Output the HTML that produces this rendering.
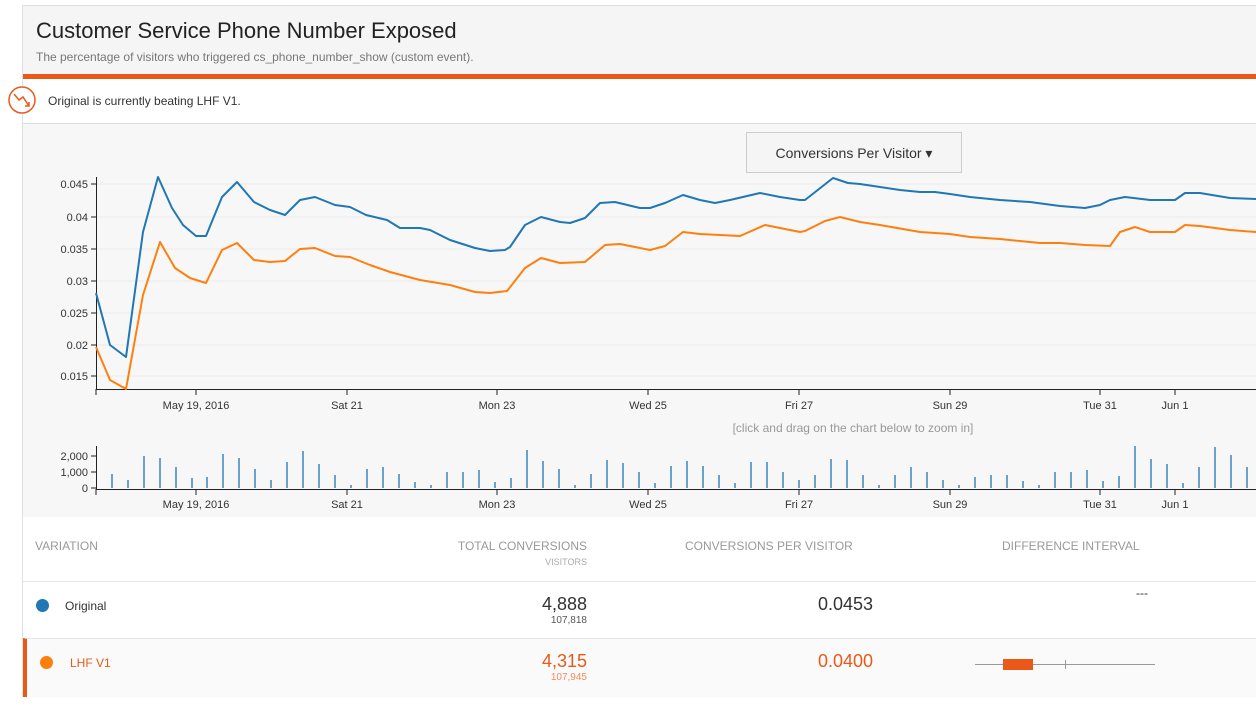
<!DOCTYPE html>
<html><head><meta charset="utf-8"><style>
*{margin:0;padding:0;box-sizing:border-box}
body{width:1256px;height:708px;background:#fff;font-family:"Liberation Sans",sans-serif;position:relative;overflow:hidden}
.card{position:absolute;left:22px;top:5px;width:1240px;height:692px;border:1px solid #e0e0e0;background:#fff}
.hdr{position:absolute;left:0;top:0;width:100%;height:68px;background:#f5f5f5}
.hdr h1{position:absolute;left:13px;top:12px;font-size:22px;font-weight:normal;color:#222}
.hdr p{position:absolute;left:13px;top:44px;font-size:12px;color:#777}
.bar{position:absolute;left:0;top:68px;width:100%;height:5px;background:#e8591a}
.alert{position:absolute;left:25px;top:88px;font-size:12px;color:#333}
.chart{position:absolute;left:0;top:117px;width:100%;height:394px;background:#f7f7f7;border-top:1px solid #ddd}
.btn{position:absolute;left:723px;top:8px;width:216px;height:41px;border:1px solid #ccc;background:#f5f5f5;font-size:14px;color:#333;text-align:center;line-height:40px}
.t{position:absolute;font-size:12px}
</style></head><body>
<div class="card">
<div class="hdr"><h1>Customer Service Phone Number Exposed</h1><p>The percentage of visitors who triggered cs_phone_number_show (custom event).</p></div>
<div class="bar"></div>
<div class="alert">Original is currently beating LHF V1.</div>
<div class="chart"><div class="btn">Conversions Per Visitor &#9662;</div></div>
<div class="t" style="left:12px;top:533px;color:#999;font-size:12px">VARIATION</div>
<div class="t" style="left:380px;top:533px;width:184px;text-align:right;color:#999">TOTAL CONVERSIONS</div>
<div class="t" style="left:380px;top:551px;width:184px;text-align:right;color:#aaa;font-size:9px">VISITORS</div>
<div class="t" style="left:662px;top:533px;color:#999">CONVERSIONS PER VISITOR</div>
<div class="t" style="left:979px;top:533px;color:#999">DIFFERENCE INTERVAL</div>
<div style="position:absolute;left:0;top:575px;width:100%;height:1px;background:#e5e5e5"></div>
<div style="position:absolute;left:13px;top:593px;width:13px;height:13px;border-radius:50%;background:#1f77b4"></div>
<div class="t" style="left:42px;top:593px;color:#333">Original</div>
<div class="t" style="left:380px;top:588px;width:184px;text-align:right;color:#333;font-size:18px">4,888</div>
<div class="t" style="left:380px;top:609px;width:184px;text-align:right;color:#555;font-size:10px">107,818</div>
<div class="t" style="left:700px;top:588px;width:150px;text-align:right;color:#333;font-size:18px">0.0453</div>
<div class="t" style="left:1113px;top:580px;color:#333">---</div>
<div style="position:absolute;left:0;top:632px;width:100%;height:59px;background:#fafafa;border-top:1px solid #e5e5e5;border-left:4px solid #e8591a"></div>
<div style="position:absolute;left:17px;top:650px;width:13px;height:13px;border-radius:50%;background:#ff7f0e"></div>
<div class="t" style="left:47px;top:650px;color:#e8591a">LHF V1</div>
<div class="t" style="left:380px;top:645px;width:184px;text-align:right;color:#e8591a;font-size:18px">4,315</div>
<div class="t" style="left:380px;top:666px;width:184px;text-align:right;color:#f08a5a;font-size:10px">107,945</div>
<div class="t" style="left:700px;top:645px;width:150px;text-align:right;color:#e8591a;font-size:18px">0.0400</div>
<div style="position:absolute;left:952px;top:658px;width:180px;height:1px;background:#999"></div>
<div style="position:absolute;left:980px;top:653px;width:30px;height:11px;background:#e8591a"></div>
<div style="position:absolute;left:1042px;top:654px;width:1px;height:9px;background:#999"></div>
</div>
<svg style="position:absolute;left:0;top:0" width="1256" height="708">
<circle cx="22" cy="100" r="13" fill="#fff" stroke="#e8591a" stroke-width="1.5"/>
<polyline points="14,94 19,100 23,97 29,106" fill="none" stroke="#e8591a" stroke-width="1.5"/>
<polyline points="25,106 29,106 29,102" fill="none" stroke="#e8591a" stroke-width="1.5"/>
<g stroke="#ebebeb" stroke-width="1">
<line x1="96" y1="184" x2="1256" y2="184"/><line x1="96" y1="217" x2="1256" y2="217"/><line x1="96" y1="249" x2="1256" y2="249"/><line x1="96" y1="281" x2="1256" y2="281"/><line x1="96" y1="313" x2="1256" y2="313"/><line x1="96" y1="345" x2="1256" y2="345"/><line x1="96" y1="376" x2="1256" y2="376"/>
</g>
<g font-size="11" fill="#333" text-anchor="end" font-family="Liberation Sans">
<text x="88" y="188">0.045</text><text x="88" y="221">0.04</text><text x="88" y="253">0.035</text><text x="88" y="285">0.03</text><text x="88" y="317">0.025</text><text x="88" y="349">0.02</text><text x="88" y="380">0.015</text>
<text x="88" y="460">2,000</text><text x="88" y="476">1,000</text><text x="88" y="492">0</text>
</g>
<g stroke="#222" stroke-width="1" fill="none">
<line x1="96.5" y1="177" x2="96.5" y2="389"/><line x1="96" y1="389.5" x2="1256" y2="389.5"/>
<line x1="96.5" y1="446" x2="96.5" y2="489"/><line x1="96" y1="489.5" x2="1256" y2="489.5"/>
<line x1="91" y1="184" x2="96" y2="184"/><line x1="91" y1="217" x2="96" y2="217"/><line x1="91" y1="249" x2="96" y2="249"/><line x1="91" y1="281" x2="96" y2="281"/><line x1="91" y1="313" x2="96" y2="313"/><line x1="91" y1="345" x2="96" y2="345"/><line x1="91" y1="376" x2="96" y2="376"/>
<line x1="91" y1="456" x2="96" y2="456"/><line x1="91" y1="472" x2="96" y2="472"/><line x1="91" y1="488" x2="96" y2="488"/>
<g id="tk"><line x1="196" y1="389" x2="196" y2="395"/><line x1="347" y1="389" x2="347" y2="395"/><line x1="497" y1="389" x2="497" y2="395"/><line x1="648" y1="389" x2="648" y2="395"/><line x1="799" y1="389" x2="799" y2="395"/><line x1="950" y1="389" x2="950" y2="395"/><line x1="1100" y1="389" x2="1100" y2="395"/><line x1="1175" y1="389" x2="1175" y2="395"/><line x1="96" y1="389" x2="96" y2="395"/></g>
<use href="#tk" y="100"/>
</g>
<g font-size="11" fill="#333" text-anchor="middle" font-family="Liberation Sans" id="tl">
<text x="196" y="409">May 19, 2016</text><text x="347" y="409">Sat 21</text><text x="497" y="409">Mon 23</text><text x="648" y="409">Wed 25</text><text x="799" y="409">Fri 27</text><text x="950" y="409">Sun 29</text><text x="1100" y="409">Tue 31</text><text x="1175" y="409">Jun 1</text>
</g>
<use href="#tl" y="99"/>
<text x="853" y="432" font-size="12" fill="#999" text-anchor="middle" font-family="Liberation Sans">[click and drag on the chart below to zoom in]</text>
<polyline fill="none" stroke="#1f77b4" stroke-width="2" stroke-linejoin="round" points="96,293 110,345 126,357 143,232 158,177 172,208 183,225 196,236 206,236 222,197 237,182 254,202 270,210 285,215 300,200 315,197 335,205 350,207 366,215 387,220 400,228 420,228 430,230 450,240 475,248 490,251 505,250 510,247 525,225 541,217 560,222 570,223 585,218 600,203 615,202 640,208 650,208 665,203 683,195 700,200 715,203 730,200 760,193 780,197 800,200 805,200 833,178 848,183 860,184 900,190 920,192 935,192 950,194 970,197 1000,200 1030,202 1060,206 1085,208 1100,205 1110,200 1125,197 1150,200 1160,200 1175,200 1185,193 1200,193 1230,198 1256,199"/>
<polyline fill="none" stroke="#ff7f0e" stroke-width="2" stroke-linejoin="round" points="96,347 110,380 126,389 143,295 160,242 175,268 190,278 206,283 222,250 237,243 254,260 270,262 285,261 300,249 315,248 335,256 350,257 370,265 390,272 420,280 450,285 475,292 490,293 507,291 525,268 541,258 560,263 585,262 605,245 620,244 650,250 665,246 683,232 700,234 740,236 765,225 800,232 805,231 825,221 840,217 860,222 880,225 920,232 950,234 970,237 1000,239 1040,243 1060,243 1085,245 1110,246 1120,232 1135,227 1150,232 1175,232 1185,225 1200,226 1230,230 1256,232"/>
<g stroke="#3a86c0" stroke-width="1.5">
<line x1="112" y1="488" x2="112" y2="474"/><line x1="128" y1="488" x2="128" y2="480"/><line x1="144" y1="488" x2="144" y2="456"/><line x1="160" y1="488" x2="160" y2="458"/><line x1="176" y1="488" x2="176" y2="467"/><line x1="192" y1="488" x2="192" y2="478"/><line x1="207" y1="488" x2="207" y2="477"/><line x1="223" y1="488" x2="223" y2="454"/><line x1="239" y1="488" x2="239" y2="458"/><line x1="255" y1="488" x2="255" y2="469"/><line x1="271" y1="488" x2="271" y2="480"/><line x1="287" y1="488" x2="287" y2="462"/><line x1="303" y1="488" x2="303" y2="451"/><line x1="319" y1="488" x2="319" y2="464"/><line x1="335" y1="488" x2="335" y2="475"/><line x1="351" y1="488" x2="351" y2="485"/><line x1="367" y1="488" x2="367" y2="469"/><line x1="383" y1="488" x2="383" y2="467"/><line x1="399" y1="488" x2="399" y2="474"/><line x1="415" y1="488" x2="415" y2="482"/><line x1="431" y1="488" x2="431" y2="485"/><line x1="447" y1="488" x2="447" y2="472"/><line x1="463" y1="488" x2="463" y2="472"/><line x1="479" y1="488" x2="479" y2="470"/><line x1="495" y1="488" x2="495" y2="482"/><line x1="511" y1="488" x2="511" y2="478"/><line x1="527" y1="488" x2="527" y2="450"/><line x1="543" y1="488" x2="543" y2="461"/><line x1="559" y1="488" x2="559" y2="469"/><line x1="575" y1="488" x2="575" y2="485"/><line x1="591" y1="488" x2="591" y2="474"/><line x1="607" y1="488" x2="607" y2="460"/><line x1="623" y1="488" x2="623" y2="463"/><line x1="639" y1="488" x2="639" y2="472"/><line x1="655" y1="488" x2="655" y2="483"/><line x1="671" y1="488" x2="671" y2="466"/><line x1="687" y1="488" x2="687" y2="461"/><line x1="703" y1="488" x2="703" y2="466"/><line x1="719" y1="488" x2="719" y2="475"/><line x1="735" y1="488" x2="735" y2="483"/><line x1="751" y1="488" x2="751" y2="462"/><line x1="767" y1="488" x2="767" y2="462"/><line x1="783" y1="488" x2="783" y2="472"/><line x1="799" y1="488" x2="799" y2="480"/><line x1="815" y1="488" x2="815" y2="475"/><line x1="831" y1="488" x2="831" y2="459"/><line x1="847" y1="488" x2="847" y2="460"/><line x1="863" y1="488" x2="863" y2="475"/><line x1="879" y1="488" x2="879" y2="485"/><line x1="895" y1="488" x2="895" y2="475"/><line x1="911" y1="488" x2="911" y2="467"/><line x1="927" y1="488" x2="927" y2="472"/><line x1="943" y1="488" x2="943" y2="480"/><line x1="959" y1="488" x2="959" y2="485"/><line x1="975" y1="488" x2="975" y2="477"/><line x1="991" y1="488" x2="991" y2="475"/><line x1="1007" y1="488" x2="1007" y2="475"/><line x1="1023" y1="488" x2="1023" y2="481"/><line x1="1039" y1="488" x2="1039" y2="485"/><line x1="1055" y1="488" x2="1055" y2="472"/><line x1="1071" y1="488" x2="1071" y2="472"/><line x1="1087" y1="488" x2="1087" y2="470"/><line x1="1103" y1="488" x2="1103" y2="481"/><line x1="1119" y1="488" x2="1119" y2="476"/><line x1="1135" y1="488" x2="1135" y2="446"/><line x1="1151" y1="488" x2="1151" y2="459"/><line x1="1167" y1="488" x2="1167" y2="464"/><line x1="1183" y1="488" x2="1183" y2="483"/><line x1="1199" y1="488" x2="1199" y2="467"/><line x1="1215" y1="488" x2="1215" y2="447"/><line x1="1231" y1="488" x2="1231" y2="455"/><line x1="1247" y1="488" x2="1247" y2="467"/>
</g>
</svg>
</body></html>
